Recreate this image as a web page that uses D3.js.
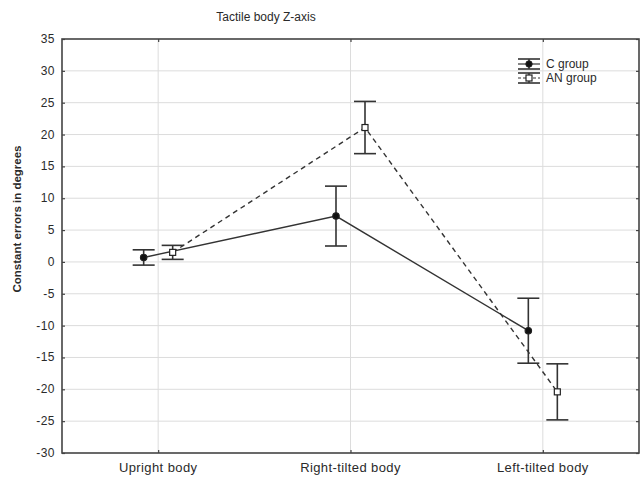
<!DOCTYPE html>
<html>
<head>
<meta charset="utf-8">
<script src="https://cdn.jsdelivr.net/npm/d3@7"></script>
<style>
  body { margin: 0; background: #fff; }
  text { font-family: "Liberation Sans", Arial, sans-serif; fill: #2a2a2a; }
</style>
</head>
<body>
<svg id="chart" width="640" height="480"></svg>
<script>
// data
const categories = ["Upright body", "Right-tilted body", "Left-tilted body"]
const groups = ["C group", "AN group"]
const cMeans = [0.7, 7.2, -10.8]
const cErrs = [1.2, 4.7, 5.1]
const anMeans = [1.5, 21.1, -20.4]
const anErrs = [1.1, 4.1, 4.4]
const yTicks = [35, 30, 25, 20, 15, 10, 5, 0, -5, -10, -15, -20, -25, -30]

const margin = { left: 62, top: 39, right: 1, bottom: 27 }
const width = 640, height = 480

const svg = d3.select("#chart")

const x = d3.scalePoint()
    .domain(categories)
    .range([margin.left, width - margin.right])
    .padding(0.5)

const y = d3.scaleLinear()
    .domain([-30, 35])
    .range([height - margin.bottom, margin.top])

const offset = { "C group": -14.5, "AN group": 14.5 }

// grid
svg.append("g").selectAll("line.h")
    .data(yTicks.slice(1, -1))
    .join("line")
    .attr("x1", margin.left).attr("x2", width - margin.right)
    .attr("y1", d => y(d)).attr("y2", d => y(d))
    .style("stroke", "#dcdcdc").style("stroke-width", 1)

svg.append("g").selectAll("line.v")
    .data(categories)
    .join("line")
    .attr("x1", d => x(d)).attr("x2", d => x(d))
    .attr("y1", margin.top).attr("y2", height - margin.bottom)
    .style("stroke", "#dcdcdc").style("stroke-width", 1)

// axes (ticks pointing inward)
const axLeft = svg.append("g")
    .attr("transform", "translate(" + margin.left + ",0)")
    .call(d3.axisRight(y).tickValues(yTicks).tickSize(3).tickFormat(""))
const axRight = svg.append("g")
    .attr("transform", "translate(" + (width - margin.right) + ",0)")
    .call(d3.axisLeft(y).tickValues(yTicks).tickSize(3).tickFormat(""))
const axTop = svg.append("g")
    .attr("transform", "translate(0," + margin.top + ")")
    .call(d3.axisBottom(x).tickSize(3).tickFormat(""))
const axBottom = svg.append("g")
    .attr("transform", "translate(0," + (height - margin.bottom) + ")")
    .call(d3.axisTop(x).tickSize(3).tickFormat(""))

;[axLeft, axRight, axTop, axBottom].forEach(function (g) {
    g.selectAll(".domain").remove()
    g.selectAll("line").style("stroke", "#444").style("stroke-width", 1.2)
})

svg.append("rect")
    .attr("x", margin.left).attr("y", margin.top)
    .attr("width", width - margin.right - margin.left)
    .attr("height", height - margin.bottom - margin.top)
    .style("fill", "none").style("stroke", "#444").style("stroke-width", 1.6)

// tick labels
svg.append("g").selectAll("text")
    .data(yTicks)
    .join("text")
    .text(d => d)
    .attr("x", 55)
    .attr("y", d => y(d) + 4)
    .style("text-anchor", "end")
    .style("font-size", "12px")
    .style("letter-spacing", "0.5px")

svg.append("g").selectAll("text")
    .data(categories)
    .join("text")
    .text(d => d)
    .attr("x", d => x(d))
    .attr("y", 472)
    .style("text-anchor", "middle")
    .style("font-size", "13px")
    .style("letter-spacing", "0.4px")

svg.append("text")
    .text("Tactile body Z-axis")
    .attr("x", 266).attr("y", 21)
    .style("text-anchor", "middle")
    .style("font-size", "12px")

svg.append("text")
    .text("Constant errors in degrees")
    .attr("transform", "translate(21,219) rotate(-90)")
    .style("text-anchor", "middle")
    .style("font-size", "11.5px")
    .style("font-weight", "bold")

// series
const series = [
    { name: groups[0], means: cMeans, errs: cErrs, dash: null, fill: "#111" },
    { name: groups[1], means: anMeans, errs: anErrs, dash: "5,4", fill: "#fff" }
]

const line = d3.line()
    .x(d => d.x)
    .y(d => y(d.m))

series.forEach(function (s) {
    const pts = categories.map((c, i) => ({ x: x(c) + offset[s.name], m: s.means[i], e: s.errs[i] }))
    const g = svg.append("g")

    g.append("path")
        .datum(pts)
        .attr("d", line)
        .style("fill", "none")
        .style("stroke", "#333")
        .style("stroke-width", 1.4)
        .style("stroke-dasharray", s.dash)

    g.selectAll("line.err")
        .data(pts)
        .join("line")
        .attr("x1", d => d.x).attr("x2", d => d.x)
        .attr("y1", d => y(d.m + d.e)).attr("y2", d => y(d.m - d.e))
        .style("stroke", "#333").style("stroke-width", 1.6)

    ;["top", "bottom"].forEach(function (k) {
        g.selectAll("line.cap" + k)
            .data(pts)
            .join("line")
            .attr("class", "cap" + k)
            .attr("x1", d => d.x - 11).attr("x2", d => d.x + 11)
            .attr("y1", d => y(k == "top" ? d.m + d.e : d.m - d.e))
            .attr("y2", d => y(k == "top" ? d.m + d.e : d.m - d.e))
            .style("stroke", "#333").style("stroke-width", 1.6)
    })

    g.selectAll(".pt")
        .data(pts)
        .join(s.dash ? "rect" : "circle")
        .attr("class", "pt")
        .each(function (d) {
            const p = d3.select(this)
            if (s.dash) {
                p.attr("x", d.x - 3).attr("y", y(d.m) - 3).attr("width", 6).attr("height", 6)
            } else {
                p.attr("cx", d.x).attr("cy", y(d.m)).attr("r", 3.2)
            }
        })
        .style("fill", s.fill)
        .style("stroke", "#222")
        .style("stroke-width", 1.2)
})

// legend
const legend = svg.append("g")
const lx = 529
series.forEach(function (s, i) {
    const cy = 64 + i * 14
    legend.append("line")
        .attr("x1", lx - 11).attr("x2", lx + 11)
        .attr("y1", cy - 5).attr("y2", cy - 5)
        .style("stroke", "#333").style("stroke-width", 1.6)
    legend.append("line")
        .attr("x1", lx - 11).attr("x2", lx + 11)
        .attr("y1", cy + 5).attr("y2", cy + 5)
        .style("stroke", "#333").style("stroke-width", 1.6)
    legend.append("line")
        .attr("x1", lx - 11).attr("x2", lx + 11)
        .attr("y1", cy).attr("y2", cy)
        .style("stroke", "#333").style("stroke-width", 1.2)
        .style("stroke-dasharray", s.dash ? "3,2" : null)
    legend.append("line")
        .attr("x1", lx).attr("x2", lx)
        .attr("y1", cy - 5).attr("y2", cy + 5)
        .style("stroke", "#333").style("stroke-width", 1.4)
    if (s.dash) {
        legend.append("rect")
            .attr("x", lx - 3).attr("y", cy - 3).attr("width", 6).attr("height", 6)
            .style("fill", "#fff").style("stroke", "#222").style("stroke-width", 1.2)
    } else {
        legend.append("circle")
            .attr("cx", lx).attr("cy", cy).attr("r", 3.2)
            .style("fill", "#111").style("stroke", "#222")
    }
    legend.append("text")
        .text(s.name)
        .attr("x", 546).attr("y", cy + 4)
        .style("font-size", "12px")
})
</script>
</body>
</html>
